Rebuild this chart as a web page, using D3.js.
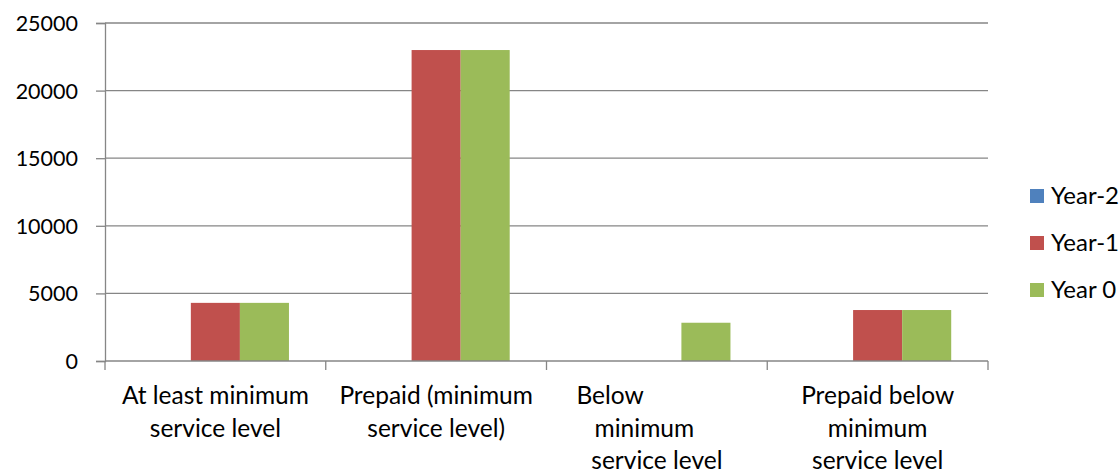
<!DOCTYPE html>
<html>
<head>
<meta charset="utf-8">
<script src="https://cdnjs.cloudflare.com/ajax/libs/d3/7.8.5/d3.min.js"></script>
<style>
  body { margin: 0; background: #fff; }
  text { font-family: Lato, "Open Sans", sans-serif; fill: #000; white-space: pre; }
</style>
</head>
<body>
<svg id="chart" width="1119" height="471"></svg>
<script>
// chart data
var categories = [
    ["At least minimum", "service level"],
    ["Prepaid (minimum", "service level)"],
    ["Below\u00a0\u00a0\u00a0\u00a0\u00a0\u00a0\u00a0\u00a0\u00a0\u00a0\u00a0\u00a0\u00a0\u00a0\u00a0",
     "minimum\u00a0\u00a0\u00a0\u00a0", "service level"],
    ["Prepaid below", "minimum", "service level"]
];
var seriesNames = ["Year-2", "Year-1", "Year 0"];
var year2 = [0, 0, 0, 0];
var year1 = [4300, 23000, 0, 3770];
var year0 = [4300, 23000, 2830, 3770];
var yTicks = [0, 5000, 10000, 15000, 20000, 25000];
var colors = ["#4F81BD", "#C0504D", "#9BBB59"];

var svg = d3.select("#chart");
var margin = { left: 105, right: 131, top: 23, bottom: 110 };
var width = 1119 - margin.left - margin.right;
var height = 471 - margin.top - margin.bottom;

var g = svg.append("g").attr("transform", "translate(" + margin.left + "," + margin.top + ")");

var x = d3.scaleBand().domain(d3.range(categories.length)).range([0, width]).paddingInner(0).paddingOuter(0);
// excel style: gap width 150% split on both sides of the group
var x1 = d3.scaleBand().domain(d3.range(seriesNames.length))
    .range([x.bandwidth() * 0.75 / 4.5, x.bandwidth() - x.bandwidth() * 0.75 / 4.5]);
var y = d3.scaleLinear().domain([0, 25000]).range([height, 0]);

// gridlines
g.selectAll(".grid")
    .data(yTicks.slice(1))
    .enter().append("line")
    .attr("x1", 0).attr("x2", width)
    .attr("y1", function (d) { return y(d); })
    .attr("y2", function (d) { return y(d); })
    .attr("stroke", "#868686").attr("stroke-width", 1.3);

// bars
var series = [year2, year1, year0];
series.forEach(function (vals, si) {
    g.selectAll(".bar" + si)
        .data(vals)
        .enter().append("rect")
        .attr("x", function (d, i) { return x(i) + x1(si); })
        .attr("width", x1.bandwidth())
        .attr("y", function (d) { return y(d); })
        .attr("height", function (d) { return height - y(d); })
        .attr("fill", colors[si]);
});

// y axis
var yAxis = g.append("g").call(d3.axisLeft(y).tickValues(yTicks).tickSize(9).tickPadding(18).tickFormat(d3.format("d")));
yAxis.select(".domain").attr("stroke", "#868686").attr("stroke-width", 1.3);
yAxis.selectAll(".tick line").attr("stroke", "#868686").attr("stroke-width", 1.3);
yAxis.selectAll(".tick text").style("font-size", "21.5px").style("font-family", "Lato, sans-serif").attr("fill", "#000").attr("dy", "0.35em");

// x axis line + ticks
var xAxis = g.append("g").attr("transform", "translate(0," + height + ")");
xAxis.append("line").attr("x1", 0).attr("x2", width).attr("stroke", "#868686").attr("stroke-width", 1.3);
xAxis.selectAll(".xt")
    .data(d3.range(categories.length + 1))
    .enter().append("line")
    .attr("x1", function (d) { return d * x.bandwidth(); })
    .attr("x2", function (d) { return d * x.bandwidth(); })
    .attr("y1", 0).attr("y2", 9)
    .attr("stroke", "#868686").attr("stroke-width", 1.3);

// category labels
var lab = xAxis.selectAll(".lab")
    .data(categories)
    .enter().append("text")
    .attr("text-anchor", "middle")
    .style("font-size", "24.5px")
    .attr("transform", function (d, i) { return "translate(" + (x(i) + x.bandwidth() / 2) + ",43)"; });
lab.selectAll("tspan")
    .data(function (d) { return d; })
    .enter().append("tspan")
    .attr("x", 0)
    .attr("y", function (d, i) { return i * 32.5; })
    .text(function (d) { return d; });

// legend
var legend = svg.append("g").attr("transform", "translate(1030,196)");
var li = legend.selectAll(".li")
    .data(seriesNames)
    .enter().append("g")
    .attr("transform", function (d, i) { return "translate(0," + i * 47 + ")"; });
li.append("rect").attr("x", 0).attr("y", -7).attr("width", 14).attr("height", 14)
    .attr("fill", function (d, i) { return colors[i]; });
li.append("text").attr("x", 21).attr("dy", "0.35em").style("font-size", "24px")
    .text(function (d) { return d; });
</script>
</body>
</html>
